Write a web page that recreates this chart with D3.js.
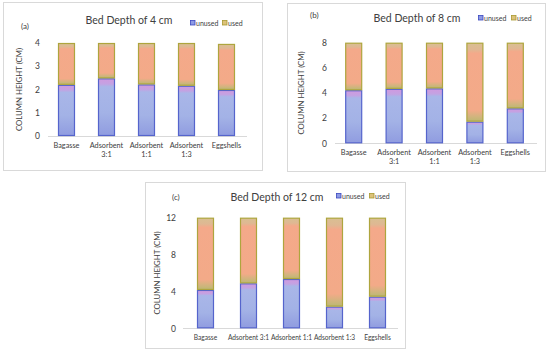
<!DOCTYPE html>
<html>
<head>
<meta charset="utf-8">
<script src="https://cdn.jsdelivr.net/npm/d3@7"></script>
<style>
  html, body { margin: 0; padding: 0; background: #ffffff; }
  svg { display: block; }
  text { font-family: Lato, "Open Sans", sans-serif; fill: #404040; }
</style>
</head>
<body>
<svg id="chart" width="550" height="354"></svg>
<script>
// ---- data ----
const categoriesWrapped = [["Bagasse"], ["Adsorbent", "3:1"], ["Adsorbent", "1:1"], ["Adsorbent", "1:3"], ["Eggshells"]];
const categoriesFlat = ["Bagasse", "Adsorbent 3:1", "Adsorbent 1:1", "Adsorbent 1:3", "Eggshells"];
const panelLabels = ["(a)", "(b)", "(c)"];
const titles = ["Bed Depth of 4 cm", "Bed Depth of 8 cm", "Bed Depth of 12 cm"];
const unused4 = [2.2, 2.48, 2.22, 2.16, 1.98];
const used4 = [1.8, 1.52, 1.78, 1.84, 1.98];
const unused8 = [4.22, 4.33, 4.37, 1.72, 2.78];
const used8 = [3.78, 3.67, 3.63, 6.28, 5.22];
const unused12 = [4.16, 4.88, 5.35, 2.35, 3.43];
const used12 = [7.84, 7.12, 6.65, 9.65, 8.57];
const ticks4 = [0, 1, 2, 3, 4];
const ticks8 = [0, 2, 4, 6, 8];
const ticks12 = [0, 4, 8, 12];
const seriesNames = ["unused", "used"];

// ---- layout (not data) ----
const layouts = [
  { frame: [3, 2, 259, 168], x: [46.5, 246.5], y: [136, 43], axisX: [48, 247], tickX: 40, yTitleX: 22,
    titleX: 129, titleY: 24, labX: 21, labY: 29, legX: 190, legUsedX: 222, legY: 24, xlabY: 148, bw: 17, xfs: 7.3,
    cats: categoriesWrapped, unused: unused4, used: used4, ticks: ticks4, max: 4 },
  { frame: [287, 3, 258, 168], x: [333.5, 535.5], y: [143.3, 42.7], axisX: [335, 537], tickX: 327, yTitleX: 304,
    titleX: 417, titleY: 22, labX: 310, labY: 18, legX: 478, legUsedX: 511, legY: 19, xlabY: 155, bw: 17, xfs: 7.3,
    cats: categoriesWrapped, unused: unused8, used: used8, ticks: ticks8, max: 8 },
  { frame: [145, 182, 260, 166], x: [184, 399], y: [328.3, 217.7], axisX: [183, 398], tickX: 176, yTitleX: 160,
    titleX: 277, titleY: 201, labX: 172, labY: 200, legX: 336, legUsedX: 369, legY: 197, xlabY: 340, bw: 17, xfs: 6.6,
    cats: categoriesFlat.map(d => [d]), unused: unused12, used: used12, ticks: ticks12, max: 12 }
];

const svg = d3.select("#chart");
const defs = svg.append("defs");

const gu = defs.append("linearGradient").attr("id", "gUnused").attr("x1", 0).attr("y1", 0).attr("x2", 0).attr("y2", 1);
gu.append("stop").attr("offset", "0%").attr("stop-color", "#cf9ae0");
gu.append("stop").attr("offset", "9%").attr("stop-color", "#c4a2e2");
gu.append("stop").attr("offset", "14%").attr("stop-color", "#a9b6e8");
gu.append("stop").attr("offset", "60%").attr("stop-color", "#a3b2e6");
gu.append("stop").attr("offset", "100%").attr("stop-color", "#909ce0");

const gd = defs.append("linearGradient").attr("id", "gUsed").attr("x1", 0).attr("y1", 0).attr("x2", 0).attr("y2", 1);
gd.append("stop").attr("offset", "0%").attr("stop-color", "#d9bf92");
gd.append("stop").attr("offset", "8%").attr("stop-color", "#dfb893");
gd.append("stop").attr("offset", "13%").attr("stop-color", "#f4a98a");
gd.append("stop").attr("offset", "86%").attr("stop-color", "#f3aa88");
gd.append("stop").attr("offset", "94%").attr("stop-color", "#d2b47e");
gd.append("stop").attr("offset", "100%").attr("stop-color", "#bcb872");

const unusedStroke = "#5564cc";
const usedStroke = "#aea53e";

layouts.forEach((L, pi) => {
  const g = svg.append("g");
  // frame
  g.append("rect").attr("x", L.frame[0] + 0.5).attr("y", L.frame[1] + 0.5)
    .attr("width", L.frame[2]).attr("height", L.frame[3])
    .attr("fill", "#fff").attr("stroke", "#d9d9d9").attr("stroke-width", 1);

  const x = d3.scaleBand().domain(categoriesFlat).range(L.x).paddingInner(0).paddingOuter(0);
  const y = d3.scaleLinear().domain([0, L.max]).range(L.y);

  // axis line
  g.append("line").attr("x1", L.axisX[0]).attr("x2", L.axisX[1])
    .attr("y1", Math.round(y(0)) + 0.5).attr("y2", Math.round(y(0)) + 0.5)
    .attr("stroke", "#d9d9d9").attr("stroke-width", 1);

  // y ticks
  const yAxis = d3.axisLeft(y).tickValues(L.ticks).tickFormat(d3.format("d")).tickSize(0).tickPadding(0);
  const ya = g.append("g").attr("transform", `translate(${L.tickX},0)`).call(yAxis);
  ya.select(".domain").remove();
  ya.selectAll("text").attr("font-size", 8.5).attr("fill", "#404040")
    .style("font-family", "Lato, 'Open Sans', sans-serif");

  // y title
  const yMid = (L.y[0] + L.y[1]) / 2;
  g.append("text").attr("transform", `translate(${L.yTitleX},${yMid}) rotate(-90)`)
    .attr("text-anchor", "middle").attr("font-size", 7.8).text("COLUMN HEIGHT (CM)");

  // bars
  const stackData = categoriesFlat.map((c, i) => ({ cat: c, unused: L.unused[i], used: L.used[i] }));
  const stacked = d3.stack().keys(seriesNames)(stackData);
  const bw = L.bw;
  stacked.forEach(series => {
    const isUnused = series.key === "unused";
    g.append("g").selectAll("rect").data(series).join("rect")
      .attr("x", d => x(d.data.cat) + x.bandwidth() / 2 - bw / 2 + 0.5)
      .attr("y", d => y(d[1]) + 0.5)
      .attr("width", bw - 1)
      .attr("height", d => Math.max(0, y(d[0]) - y(d[1]) - 1))
      .attr("fill", isUnused ? "url(#gUnused)" : "url(#gUsed)")
      .attr("stroke", isUnused ? unusedStroke : usedStroke)
      .attr("stroke-width", 1.2);
  });

  // x labels
  const xl = g.append("g");
  categoriesFlat.forEach((c, i) => {
    const t = xl.append("text").attr("x", x(c) + x.bandwidth() / 2).attr("y", L.xlabY)
      .attr("text-anchor", "middle").attr("font-size", L.xfs);
    L.cats[i].forEach((line, li) => {
      t.append("tspan").attr("x", x(c) + x.bandwidth() / 2).attr("dy", li === 0 ? 0 : 9).text(line);
    });
  });

  // title
  g.append("text").attr("x", L.titleX).attr("y", L.titleY).attr("text-anchor", "middle")
    .attr("font-size", 10.5).attr("fill", "#404040").text(titles[pi]);

  // panel label
  g.append("text").attr("x", L.labX).attr("y", L.labY).attr("font-size", 8).attr("fill", "#222").text(panelLabels[pi]);

  // legend
  const legItems = [
    { name: seriesNames[0], x: L.legX, fill: "#8d9ae4", stroke: "#3a48c0" },
    { name: seriesNames[1], x: L.legUsedX, fill: "#dcc27a", stroke: "#a89a30" }
  ];
  legItems.forEach(it => {
    g.append("rect").attr("x", it.x + 0.5).attr("y", L.legY - 3.5).attr("width", 4.5).attr("height", 4.5)
      .attr("fill", it.fill).attr("stroke", it.stroke).attr("stroke-width", 0.8);
    g.append("text").attr("x", it.x + 6).attr("y", L.legY + 1.5).attr("font-size", 7).text(it.name);
  });
});
</script>
</body>
</html>
